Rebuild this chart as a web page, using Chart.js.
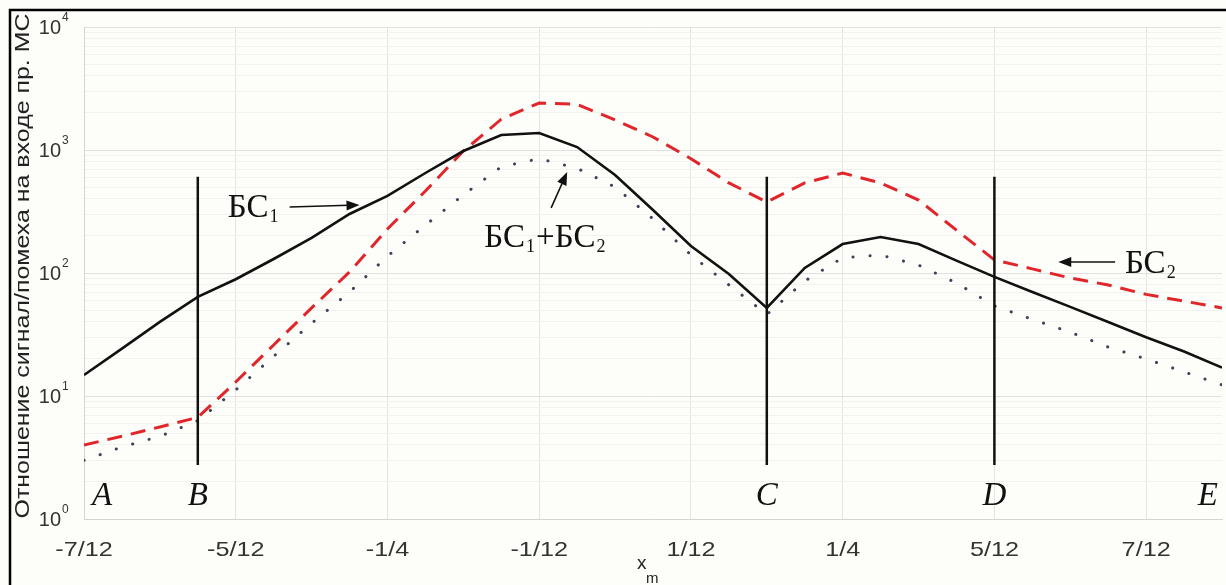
<!DOCTYPE html>
<html>
<head>
<meta charset="utf-8">
<script src="https://cdn.jsdelivr.net/npm/chart.js@4.4.1/dist/chart.umd.min.js"></script>
<style>
  html, body { margin: 0; padding: 0; background: #fdfdf9; }
  canvas { display: block; }
</style>
</head>
<body>
<canvas id="plot" width="1226" height="585"></canvas>
<script>
// x positions in 1/24 steps, from -7/12 to 2/3
const xNodes24 = [-14, -13, -12, -11, -10, -9, -8, -7, -6, -5, -4, -3, -2, -1, 0, 1,
  2, 3, 4, 5, 6, 7, 8, 9, 10, 11, 12, 13, 14, 15, 16];

const bs1 = [14.8, 24.3, 40, 64, 89, 130, 193, 302, 423, 650, 981, 1324, 1375, 1057, 626, 325,
  166, 98, 52, 110, 172, 196, 172, 126, 93, 70, 53, 40, 30, 23, 17];
const bs2 = [4.0, 4.7, 5.6, 6.7, 13, 26, 52, 102, 228, 464, 980, 1780, 2410, 2350, 1755, 1276,
  850, 540, 378, 540, 650, 540, 392, 223, 128, 108, 91, 80, 67, 59, 52];
const bsSum = [3.0, 3.85, 4.7, 6.3, 11.2, 21, 39, 70, 137, 245, 431, 730, 850, 710, 500, 275,
  140, 80, 46, 86, 133, 140, 116, 83, 54, 42, 33, 25, 20, 15.7, 12.3];

// vertical section lines B, C, D
const markerX = [-11 / 24, 2 / 12, 5 / 12];
const markerLow = 2.75;
const markerHigh = 605;

const xTickValues = [-7 / 12, -5 / 12, -3 / 12, -1 / 12, 1 / 12, 3 / 12, 5 / 12, 7 / 12];
const xTickLabels = ["-7/12", "-5/12", "-1/4", "-1/12", "1/12", "1/4", "5/12", "7/12"];
const yDecades = [1, 10, 100, 1000, 10000];
const yDecadeExp = ["0", "1", "2", "3", "4"];

const yTitle = "Отношение сигнал/помеха на входе пр. МС";

// point letters: label, x value, alignment
const pointLetters = [
  ["A", -7 / 12, "left"],
  ["B", -11 / 24, "center"],
  ["C", 2 / 12, "center"],
  ["D", 5 / 12, "center"],
  ["E", 8 / 12, "right"],
];
const letterY = 1.3;

// curve callouts: main text, subscripts, text anchor, arrow tail, arrow head (data coords)
const callouts = [
  { parts: [["БС", "1"]], at: [-0.4254, 285], tail: [-0.3575, 344], head: [-0.2807, 357] },
  { parts: [["БС", "1"], ["+БС", "2"]], at: [-0.1436, 163], tail: [-0.0702, 338], head: [-0.0526, 662] },
  { parts: [["БС", "2"]], at: [0.56, 100], tail: [0.5493, 123], head: [0.4868, 123] },
];

const toPoints = (vals) => vals.map((v, i) => ({ x: xNodes24[i] / 24, y: v }));

function arrow(ctx, x0, y0, x1, y1) {
  const a = Math.atan2(y1 - y0, x1 - x0);
  const len = 13;
  const w = 5;
  ctx.beginPath();
  ctx.moveTo(x0, y0);
  ctx.lineTo(x1 - Math.cos(a) * len * 0.8, y1 - Math.sin(a) * len * 0.8);
  ctx.stroke();
  ctx.beginPath();
  ctx.moveTo(x1, y1);
  ctx.lineTo(x1 - Math.cos(a) * len + Math.sin(a) * w, y1 - Math.sin(a) * len - Math.cos(a) * w);
  ctx.lineTo(x1 - Math.cos(a) * len - Math.sin(a) * w, y1 - Math.sin(a) * len + Math.cos(a) * w);
  ctx.closePath();
  ctx.fill();
}

const decorPlugin = {
  id: "decor",
  beforeDraw: (chart) => {
    const ctx = chart.ctx;
    ctx.save();
    ctx.fillStyle = "#fdfdf9";
    ctx.fillRect(0, 0, chart.width, chart.height);
    ctx.restore();
  },
  afterDraw: (chart) => {
    const ctx = chart.ctx;
    const xs = chart.scales.x;
    const ys = chart.scales.y;
    ctx.save();

    // y tick labels 10^n
    ctx.fillStyle = "#333";
    yDecades.forEach((v, i) => {
      const py = ys.getPixelForValue(v);
      ctx.font = "20px 'Liberation Sans', Arial, sans-serif";
      ctx.textAlign = "right";
      ctx.textBaseline = "alphabetic";
      ctx.fillText("10", 61, py + 7);
      ctx.font = "12px 'Liberation Sans', Arial, sans-serif";
      ctx.textAlign = "left";
      ctx.fillText(yDecadeExp[i], 62, py - 6);
    });

    // x tick labels, slightly widened
    ctx.font = "21px 'Liberation Sans', Arial, sans-serif";
    ctx.textAlign = "center";
    ctx.textBaseline = "alphabetic";
    xTickValues.forEach((v, i) => {
      ctx.save();
      ctx.translate(xs.getPixelForValue(v), 556);
      ctx.scale(1.2, 1);
      ctx.fillText(xTickLabels[i], 0, 0);
      ctx.restore();
    });

    // y title, stretched along its length
    ctx.save();
    ctx.translate(23, 266);
    ctx.rotate(-Math.PI / 2);
    ctx.font = "21px 'Liberation Sans', Arial, sans-serif";
    const w = ctx.measureText(yTitle).width;
    ctx.scale(505 / w, 1);
    ctx.textAlign = "center";
    ctx.textBaseline = "middle";
    ctx.fillStyle = "#222";
    ctx.fillText(yTitle, 0, 0);
    ctx.restore();

    // x title x_m
    ctx.fillStyle = "#222";
    ctx.textAlign = "left";
    ctx.textBaseline = "alphabetic";
    ctx.font = "19px 'Liberation Sans', Arial, sans-serif";
    ctx.fillText("x", 637, 569);
    ctx.font = "15px 'Liberation Sans', Arial, sans-serif";
    ctx.fillText("m", 646, 583);

    // point letters
    ctx.fillStyle = "#111";
    ctx.font = "italic 33px 'Liberation Serif', 'Times New Roman', serif";
    pointLetters.forEach(([t, xv, al]) => {
      let px = xs.getPixelForValue(xv);
      if (al === "left") px += 8;
      if (al === "right") px -= 4;
      ctx.textAlign = al;
      ctx.fillText(t, px, ys.getPixelForValue(letterY));
    });

    // callouts
    ctx.strokeStyle = "#111";
    ctx.fillStyle = "#111";
    ctx.lineWidth = 1.6;
    callouts.forEach((c) => {
      let px = xs.getPixelForValue(c.at[0]);
      const py = ys.getPixelForValue(c.at[1]);
      ctx.textAlign = "left";
      c.parts.forEach(([main, sub]) => {
        ctx.font = "33px 'Liberation Serif', 'Times New Roman', serif";
        ctx.fillText(main, px, py);
        px += ctx.measureText(main).width;
        ctx.font = "18px 'Liberation Serif', 'Times New Roman', serif";
        ctx.fillText(sub, px + 1, py + 5);
        px += ctx.measureText(sub).width + 2;
      });
      arrow(ctx,
        xs.getPixelForValue(c.tail[0]), ys.getPixelForValue(c.tail[1]),
        xs.getPixelForValue(c.head[0]), ys.getPixelForValue(c.head[1]));
    });

    // outer frame
    ctx.strokeStyle = "#000";
    ctx.lineWidth = 2.5;
    ctx.beginPath();
    ctx.moveTo(10, 585);
    ctx.lineTo(10, 10);
    ctx.lineTo(1226, 10);
    ctx.stroke();
    ctx.restore();
  },
};

const markerSets = markerX.map((xv) => ({
  data: [{ x: xv, y: markerLow }, { x: xv, y: markerHigh }],
  borderColor: "#111",
  borderWidth: 2.5,
  pointRadius: 0,
}));

const lineChart = {
  type: "line",
  plugins: [decorPlugin],
  data: {
    datasets: [
      ...markerSets,
      {
        label: "БС1",
        data: toPoints(bs1),
        borderColor: "#111",
        borderWidth: 2.6,
        pointRadius: 0,
      },
      {
        label: "БС2",
        data: toPoints(bs2),
        borderColor: "#e0262b",
        borderWidth: 3,
        borderDash: [15, 9],
        pointRadius: 0,
      },
      {
        label: "БС1+БС2",
        data: toPoints(bsSum),
        borderColor: "#3c4257",
        borderWidth: 3,
        borderDash: [0.1, 17],
        borderCapStyle: "round",
        pointRadius: 0,
      },
    ],
  },
  options: {
    responsive: false,
    animation: false,
    devicePixelRatio: 1,
    layout: { padding: { top: 27, right: 4, left: 0, bottom: 0 } },
    elements: { line: { tension: 0 } },
    plugins: { legend: { display: false }, tooltip: { enabled: false } },
    scales: {
      x: {
        type: "linear",
        min: -7 / 12,
        max: 8 / 12,
        afterBuildTicks: (scale) => {
          scale.ticks = xTickValues.map((v) => ({ value: v }));
        },
        afterFit: (scale) => {
          scale.height = 66;
        },
        ticks: { display: false, autoSkip: false },
        grid: { color: "#e4e4e4", lineWidth: 1, drawTicks: false },
        border: { color: "#d4d4d4" },
      },
      y: {
        type: "logarithmic",
        min: 1,
        max: 10000,
        afterBuildTicks: (scale) => {
          const t = [];
          yDecades.forEach((d, i) => {
            t.push({ value: d, major: true });
            if (i < yDecades.length - 1) {
              for (let k = 2; k < 10; k++) t.push({ value: d * k });
            }
          });
          scale.ticks = t;
        },
        afterFit: (scale) => {
          scale.width = 84;
        },
        ticks: { display: false, autoSkip: false },
        grid: {
          drawTicks: false,
          color: (c) => (c.tick && c.tick.major ? "#e0e0e0" : "#f1f1ee"),
          lineWidth: 1,
        },
        border: { color: "#d4d4d4" },
      },
    },
  },
};

const canvas = document.getElementById("plot");
const ctx = canvas.getContext("2d");
const chart = new Chart(ctx, lineChart);
</script>
</body>
</html>
